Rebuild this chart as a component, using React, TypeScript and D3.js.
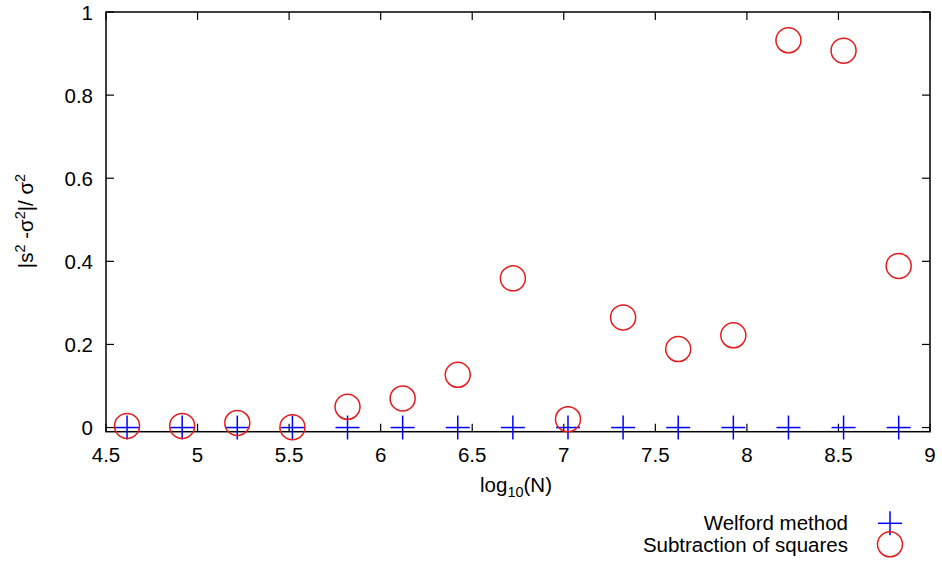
import React from "react";
import * as d3 from "d3";

const logN = [4.615, 4.916, 5.217, 5.518, 5.819, 6.12, 6.421, 6.722, 7.023, 7.324, 7.625, 7.926, 8.227, 8.528, 8.829];
const welford = [0, 0, 0, 0, 0, 0, 0, 0, 0, 0, 0, 0, 0, 0, 0];
const subtraction = [0.004, 0.004, 0.011, 0.001, 0.05, 0.07, 0.127, 0.359, 0.02, 0.265, 0.189, 0.222, 0.932, 0.907, 0.389];
const xTicks = [4.5, 5, 5.5, 6, 6.5, 7, 7.5, 8, 8.5, 9];
const yTicks = [0, 0.2, 0.4, 0.6, 0.8, 1];
const legendLabels = ["Welford method", "Subtraction of squares"];

const W = 942, H = 564;
const left = 106, right = 930, top = 12, bottom = 431.7;
const FONT = "'Liberation Sans', Arial, Helvetica, sans-serif";
const FS = 20.5;
const SUB = 14.5;
const BLUE = "#0000ff";
const RED = "#e41a1c";

export default function App() {
  const x = d3.scaleLinear().domain([4.5, 9]).range([left, right]);
  const y = d3.scaleLinear().domain([-0.01, 1]).range([bottom, top]);
  const tl = 8;
  const ps = 12; // plus half-size
  const cr = 12.5;

  const plus = (cx: number, cy: number, k: string) => (
    <g key={k} stroke={BLUE} strokeWidth={1.5}>
      <line x1={cx - ps} x2={cx + ps} y1={cy} y2={cy} />
      <line x1={cx} x2={cx} y1={cy - ps} y2={cy + ps} />
    </g>
  );

  return (
    <svg width={W} height={H} style={{ position: "absolute", left: 0, top: 0, background: "#fff" }} fontFamily={FONT}>
      <rect x={0} y={0} width={W} height={H} fill="#fff" />
      {/* ticks */}
      <g stroke="#000" strokeWidth={1.2}>
        {xTicks.map((t) => (
          <g key={"xt" + t}>
            <line x1={x(t)} x2={x(t)} y1={bottom} y2={bottom - tl} />
            <line x1={x(t)} x2={x(t)} y1={top} y2={top + tl} />
          </g>
        ))}
        {yTicks.map((t) => (
          <g key={"yt" + t}>
            <line x1={left} x2={left + tl} y1={y(t)} y2={y(t)} />
            <line x1={right} x2={right - tl} y1={y(t)} y2={y(t)} />
          </g>
        ))}
      </g>
      {/* frame */}
      <rect x={left} y={top} width={right - left} height={bottom - top} fill="none" stroke="#000" strokeWidth={1.5} />
      {/* tick labels */}
      {xTicks.map((t) => (
        <text key={"xl" + t} x={x(t)} y={461.5} fontSize={FS} textAnchor="middle" fill="#000">
          {String(t)}
        </text>
      ))}
      {yTicks.map((t) => (
        <text key={"yl" + t} x={93} y={y(t) + 7.6} fontSize={FS} textAnchor="end" fill="#000">
          {String(t)}
        </text>
      ))}
      {/* axis titles */}
      <text x={516} y={492} fontSize={FS} textAnchor="middle" fill="#000">
        log<tspan fontSize={SUB} dy={5}>10</tspan><tspan dy={-5}>(N)</tspan>
      </text>
      <text transform={`translate(33,221) rotate(-90)`} fontSize={FS} textAnchor="middle" fill="#000">
        |s<tspan fontSize={SUB} dy={-8}>2</tspan><tspan dy={8}> -σ</tspan><tspan fontSize={SUB} dy={-8}>2</tspan><tspan dy={8}>|/ σ</tspan><tspan fontSize={SUB} dy={-8}>2</tspan>
      </text>
      {/* data */}
      {logN.map((v, i) => plus(x(v), y(welford[i]), "w" + i))}
      {logN.map((v, i) => (
        <circle key={"s" + i} cx={x(v)} cy={y(subtraction[i])} r={cr} fill="none" stroke={RED} strokeWidth={1.5} />
      ))}
      {/* legend */}
      <text x={848} y={530} fontSize={FS} textAnchor="end" fill="#000">{legendLabels[0]}</text>
      <text x={848} y={551.5} fontSize={FS} textAnchor="end" fill="#000">{legendLabels[1]}</text>
      {plus(890, 523.3, "lw")}
      <circle cx={890} cy={544.3} r={cr} fill="none" stroke={RED} strokeWidth={1.5} />
    </svg>
  );
}
